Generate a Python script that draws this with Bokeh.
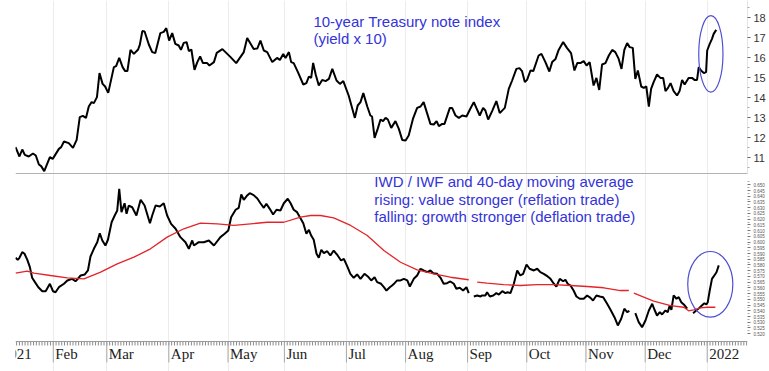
from bokeh.plotting import figure
from bokeh.models import (Range1d, LinearAxis, FixedTicker, Grid, Span, Label,
                          LabelSet, ColumnDataSource, PrintfTickFormatter)
from bokeh.layouts import column
from bokeh.embed import file_html
from bokeh.resources import INLINE

nan = float("nan")

# x = trading-session index (0 = first session of January 2021)
tnx_x = [5.6, 7.0, 8.0, 8.9, 10.3, 11.8, 12.8, 13.9, 14.7, 15.8,
         17.8, 18.8, 21.0, 21.8, 22.8, 24.5, 26.0, 27.3, 28.4, 29.5,
         30.6, 31.6, 32.6, 33.4, 34.5, 35.4, 36.5, 37.4, 38.5, 40.5,
         41.3, 42.4, 43.6, 44.5, 45.3, 46.4, 47.6, 49.1, 49.7, 50.6,
         51.4, 52.9, 54.1, 55.2, 57.0, 58.2, 59.1, 60.1, 61.2, 62.3,
         63.5, 64.3, 65.3, 66.3, 67.1, 68.0, 69.1, 70.1, 71.1, 72.1,
         73.6, 74.4, 76.0, 77.0, 79.0, 81.9, 83.9, 86.6, 87.8, 90.1,
         91.4, 92.5, 93.7, 94.9, 96.7, 98.4, 99.4, 100.6, 101.4, 102.6,
         103.4, 104.3, 105.8, 107.7, 108.8, 109.7, 110.5, 111.2, 112.1, 113.2,
         114.4, 115.6, 116.8, 118.0, 119.5, 120.7, 121.9, 123.8, 126.0, 127.0,
         128.0, 129.0, 130.4, 131.5, 132.1, 133.0, 134.1, 135.1, 136.0, 136.9,
         137.7, 138.9, 140.4, 141.6, 142.8, 144.0, 145.1, 146.6, 148.1, 149.3,
         150.4, 151.7, 152.8, 154.0, 155.0, 155.8, 157.0, 157.8, 159.7, 160.5,
         161.7, 162.9, 164.1, 165.6, 167.0, 168.2, 169.1, 170.3, 171.5, 172.3,
         173.3, 174.7, 176.2, 177.4, 179.2, 180.6, 181.8, 183.3, 184.4, 185.3,
         186.3, 187.1, 188.3, 189.3, 191.2, 192.2, 193.6, 195.0, 196.0, 197.2,
         198.3, 199.9, 201.3, 202.7, 203.9, 204.9, 206.0, 207.2, 208.2, 209.3,
         210.7, 211.7, 212.7, 213.7, 214.9, 216.1, 217.3, 218.4, 219.6, 220.6,
         221.6, 222.6, 223.5, 224.6, 225.5, 226.4, 227.6, 228.5, 229.4, 230.3,
         231.1, 232.0, 233.2, 234.4, 235.4, 236.2, 237.1, 238.0, 239.1, 240.3,
         241.2, 242.1, 243.0, 244.4, 245.6, 246.5, 247.4, 248.0, 248.8, 249.8,
         250.6, 251.0, 251.9, 252.7, 253.3, 254.2]
tnx_y = [11.52, 11.05, 11.4, 11.13, 11.05, 11.2, 11.1, 10.65, 10.57, 10.32,
         11.02, 10.93, 11.43, 11.52, 11.8, 11.72, 11.48, 11.88, 13.02, 13.08,
         12.98, 13.55, 13.77, 13.72, 14.02, 15.22, 14.68, 14.55, 14.23, 15.52,
         15.57, 15.98, 15.52, 15.32, 15.32, 16.38, 16.18, 16.4, 16.63, 17.32,
         17.3, 16.65, 16.27, 16.22, 17.22, 17.28, 17.47, 16.85, 17.22, 16.68,
         16.6, 16.38, 16.73, 16.77, 16.32, 16.4, 15.38, 15.77, 16.05, 15.72,
         15.72, 15.6, 15.77, 16.23, 16.42, 16.02, 15.72, 16.27, 16.98, 16.43,
         16.45, 16.84, 16.35, 16.27, 15.77, 15.98, 15.88, 16.18, 15.98, 16.27,
         15.77, 15.72, 15.27, 14.65, 14.72, 15.05, 14.98, 15.73, 15.15, 14.6,
         14.88, 14.82, 14.93, 15.43, 14.85, 14.68, 14.82, 14.1, 12.98, 13.6,
         13.77, 14.22, 13.55, 13.1, 13.05, 11.98, 12.43, 12.9, 12.82, 12.98,
         12.9, 12.48, 12.82, 12.43, 11.88, 11.85, 12.1, 12.93, 13.48, 13.55,
         13.77, 13.18, 12.68, 12.65, 12.82, 12.57, 12.68, 12.68, 13.48, 13.48,
         13.1, 12.98, 13.1, 13.05, 13.45, 13.77, 13.48, 13.1, 13.48, 13.35,
         12.9, 13.32, 13.82, 13.22, 13.48, 14.43, 14.85, 15.43, 15.47, 15.32,
         14.77, 14.88, 15.35, 15.32, 16.1, 16.18, 15.77, 15.3, 15.77, 15.93,
         16.38, 16.77, 16.47, 16.22, 15.35, 15.72, 15.72, 15.82, 15.6, 15.77,
         14.6, 14.98, 14.38, 15.65, 15.72, 16.1, 16.38, 16.27, 15.93, 15.43,
         16.38, 16.72, 16.52, 16.48, 14.93, 15.35, 14.55, 14.48, 14.55, 13.55,
         14.43, 14.77, 15.15, 14.98, 14.97, 14.32, 14.48, 14.72, 14.32, 14.1,
         14.32, 14.88, 14.65, 14.98, 14.98, 14.88, 14.88, 15.52, 15.35, 15.22,
         15.27, 16.35, 16.68, 16.93, 17.18, 17.38]

ratio_x = [5.6, 6.4, 7.0, 8.0, 8.8, 9.8, 10.7, 11.5, 12.5, 13.7,
           15.1, 16.3, 17.8, 18.9, 19.8, 21.0, 22.8, 24.0, 25.7, 26.9,
           27.7, 28.7, 30.2, 31.3, 32.2, 33.4, 34.6, 35.5, 36.4, 37.5,
           38.4, 39.7, 40.8, 41.7, 42.4, 43.2, 44.3, 45.0, 45.8, 47.0,
           48.5, 50.0, 51.4, 53.3, 54.1, 55.3, 56.8, 58.2, 59.4, 60.8,
           62.4, 64.1, 65.9, 67.1, 68.3, 68.9, 70.6, 72.4, 74.2, 76.0,
           78.3, 79.8, 81.1, 82.1, 83.7, 84.8, 85.7, 86.6, 87.8, 88.7,
           90.1, 91.4, 92.5, 93.7, 94.6, 95.8, 97.0, 98.2, 99.6, 100.8,
           102.2, 103.2, 104.3, 105.5, 106.5, 107.7, 108.8, 109.7, 110.5, 111.4,
           112.4, 113.2, 114.1, 115.0, 116.2, 117.3, 118.5, 119.9, 121.1, 122.1,
           123.3, 124.4, 125.6, 126.8, 128.0, 129.4, 130.6, 131.8, 133.0, 133.9,
           135.3, 136.3, 137.2, 138.4, 139.2, 140.1, 141.0, 142.2, 143.4, 144.6,
           145.5, 146.9, 148.1, 149.3, 150.4, 151.7, 152.8, 153.8, 155.2, 156.4,
           157.5, 158.7, 159.9, 161.1, 162.0, 163.2, 164.4, 165.6, 166.4, 167.3,
           168.2, 169.4, 170.6, 171.2, 172.3, 172.9, 173.9, 175.1, 176.2, 177.1,
           178.3, 179.4, 180.2, 181.2, 182.4, 183.6, 184.7, 185.7, 186.9, 188.0,
           189.5, 190.7, 191.8, 193.0, 194.4, 195.4, 196.6, 197.5, 198.7, 199.9,
           200.7, 201.5, 202.5, 203.6, 204.6, 205.8, 207.2, 208.4, 209.6, 210.5,
           211.7, 212.9, 214.1, 215.5, 216.7, 218.1, 219.3, 220.5, 221.6, 222.6,
           223.4, 224.5, 225.5, 226.7, 227.9, 229.1, 230.3, 231.5, 232.3, 233.2,
           234.2, 235.0, 236.2, 237.0, 237.7, 238.3, 239.1, 240.1, 240.9, 241.8,
           242.7, 243.9, 245.0, 246.0, 247.4, 248.3, 249.1, 250.0, 250.7, 251.2,
           251.9, 252.7, 253.3, 254.3, 255.1]
ratio_y = [0.5863, 0.5845, 0.5863, 0.5912, 0.5898, 0.5845, 0.5781, 0.5688, 0.5650, 0.5606,
           0.5571, 0.5571, 0.5636, 0.5571, 0.5562, 0.5606, 0.5636, 0.5665, 0.5679, 0.5658,
           0.5679, 0.5708, 0.5717, 0.5752, 0.5874, 0.5941, 0.5999, 0.6077, 0.6014, 0.5970,
           0.6020, 0.6173, 0.6232, 0.6276, 0.6465, 0.6261, 0.6339, 0.6247, 0.6319, 0.6304,
           0.6232, 0.6369, 0.6319, 0.6165, 0.6232, 0.6319, 0.6311, 0.6339, 0.6232, 0.6159,
           0.6116, 0.6043, 0.5999, 0.5941, 0.6014, 0.5970, 0.5999, 0.5999, 0.6014, 0.5970,
           0.6043, 0.6072, 0.6101, 0.6217, 0.6282, 0.6299, 0.6415, 0.6369, 0.6407, 0.6427,
           0.6410, 0.6380, 0.6339, 0.6299, 0.6334, 0.6290, 0.6241, 0.6282, 0.6276, 0.6339,
           0.6378, 0.6339, 0.6282, 0.6261, 0.6217, 0.6165, 0.6072, 0.6107, 0.6057, 0.6020,
           0.5898, 0.5863, 0.5933, 0.5903, 0.5920, 0.5883, 0.5926, 0.5883, 0.5839, 0.5854,
           0.5787, 0.5723, 0.5688, 0.5717, 0.5679, 0.5723, 0.5700, 0.5665, 0.5693, 0.5650,
           0.5636, 0.5606, 0.5577, 0.5606, 0.5621, 0.5641, 0.5665, 0.5665, 0.5679, 0.5665,
           0.5612, 0.5679, 0.5708, 0.5767, 0.5752, 0.5737, 0.5752, 0.5728, 0.5723, 0.5688,
           0.5636, 0.5641, 0.5656, 0.5636, 0.5592, 0.5601, 0.5577, 0.5606, 0.5554, nan,
           0.5525, 0.5534, 0.5525, 0.5534, 0.5534, 0.5562, 0.5525, 0.5534, 0.5554, 0.5542,
           0.5571, 0.5554, 0.5562, 0.5554, 0.5636, 0.5752, 0.5708, 0.5723, 0.5804, 0.5767,
           0.5752, 0.5767, 0.5737, 0.5723, 0.5700, 0.5679, 0.5636, 0.5612, 0.5679, 0.5658,
           0.5671, 0.5636, 0.5621, 0.5577, 0.5525, 0.5505, 0.5505, 0.5534, 0.5513, 0.5490,
           0.5534, 0.5525, 0.5519, 0.5461, 0.5409, 0.5344, 0.5272, 0.5330, 0.5418, 0.5388,
           0.5400, nan, 0.5379, 0.5301, 0.5257, 0.5315, 0.5403, 0.5461, 0.5409, 0.5359,
           0.5388, 0.5368, 0.5403, 0.5388, 0.5446, 0.5409, 0.5534, 0.5505, 0.5519, 0.5475,
           0.5455, 0.5418, nan, 0.5379, 0.5409, 0.5426, 0.5446, 0.5466, 0.5455, 0.5475,
           0.5577, 0.5679, 0.5700, 0.5737, 0.5796]

ma_x = [5.6, 9.8, 12.1, 18.0, 24.0, 29.9, 35.8, 41.7, 47.6, 53.5,
        59.4, 65.3, 71.2, 77.2, 83.1, 89.0, 94.9, 100.8, 106.7, 110.3,
        113.8, 118.5, 124.5, 130.4, 136.3, 142.2, 148.1, 154.0, 159.9, 166.4,
        167.9, 169.4, 172.9, 178.8, 184.7, 190.7, 196.6, 202.5, 208.4, 214.3,
        220.2, 223.2, 224.1, 225.0, 232.0, 238.0, 242.7, 244.4, 246.2, 248.6,
        251.0, 253.9]
ma_y = [0.5728, 0.5746, 0.5728, 0.5708, 0.5688, 0.5679, 0.5737, 0.5810, 0.5868, 0.5941,
        0.6043, 0.6116, 0.6165, 0.6159, 0.6145, 0.6159, 0.6173, 0.6173, 0.6217, 0.6232,
        0.6232, 0.6212, 0.6145, 0.6057, 0.5926, 0.5824, 0.5758, 0.5723, 0.5693, 0.5671,
        nan, 0.5650, 0.5641, 0.5629, 0.5621, 0.5629, 0.5629, 0.5621, 0.5612, 0.5601,
        0.5577, 0.5577, nan, 0.5554, 0.5484, 0.5446, 0.5431, 0.5400, 0.5409, 0.5426,
        0.5431, 0.5431]

month_ticks = [0, 19, 38, 60, 81, 101, 123, 144, 166, 187, 208, 229, 251]
month_labels = ["2021", "Feb", "Mar", "Apr", "May", "Jun", "Jul", "Aug",
                "Sep", "Oct", "Nov", "Dec", "2022"]
tnx_ticks = [11, 12, 13, 14, 15, 16, 17, 18]
ratio_ticks = [0.520, 0.525, 0.530, 0.535, 0.540, 0.545, 0.550, 0.555, 0.560,
               0.565, 0.570, 0.575, 0.580, 0.585, 0.590, 0.595, 0.600, 0.605,
               0.610, 0.615, 0.620, 0.625, 0.630, 0.635, 0.640, 0.645, 0.650]

title_top = ["10-year Treasury note index", "(yield x 10)"]
title_bottom = ["IWD / IWF and 40-day moving average",
                "rising: value stronger (reflation trade)",
                "falling: growth stronger (deflation trade)"]

FONT = "Liberation Sans"
BLUE = "#3434d8"
ELL = "#4f4fd2"
W = 769
LEFT, RIGHT = 15, 22

xr = Range1d(5.6, 265.3)

# ---------------- top panel ----------------
top = figure(width=W, height=174, x_range=xr, y_range=Range1d(10.15, 18.85),
             output_backend="svg", toolbar_location=None,
             x_axis_location=None, y_axis_location=None,
             min_border_left=LEFT, min_border_right=RIGHT,
             min_border_top=0, min_border_bottom=0,
             outline_line_color=None, background_fill_color="white")
top.grid.visible = False
top.add_layout(Grid(dimension=0, ticker=FixedTicker(ticks=month_ticks),
                    grid_line_color="#ececec", grid_line_width=1))
ax_t = LinearAxis(ticker=FixedTicker(ticks=tnx_ticks,
                                     minor_ticks=[t - 0.5 for t in tnx_ticks] + [18.5]),
                  major_label_text_font=FONT, major_label_text_font_size="11px",
                  major_label_text_color="#333333", major_label_standoff=3,
                  major_tick_out=3, major_tick_in=0, minor_tick_out=2, minor_tick_in=0,
                  major_tick_line_color="#666666", minor_tick_line_color="#aaaaaa",
                  axis_line_color="#e4e4e4")
top.add_layout(ax_t, "right")
top.add_layout(Span(location=10.18, dimension="width", line_color="#9a9a9a",
                    line_width=1.5))
top.line(tnx_x, tnx_y, line_color="black", line_width=2)
top.ellipse(x=252.3, y=16.18, width=8.6, height=3.83, fill_color=None,
            line_color=ELL, line_width=1.2)
for i, t in enumerate(title_top):
    top.add_layout(Label(x=111.3, y=[17.8, 16.95][i], text=t, text_font=FONT,
                         text_font_size="15px", text_color=BLUE,
                         text_baseline="alphabetic", text_align="left"))

# ---------------- bottom panel (frame runs down to the month labels) ----------------
AXIS_Y = 0.5132          # level of the date axis line
bot = figure(width=W, height=197, x_range=xr, y_range=Range1d(0.4870, 0.65899),
             output_backend="svg", toolbar_location=None,
             x_axis_location=None, y_axis_location=None,
             min_border_left=LEFT, min_border_right=RIGHT,
             min_border_top=0, min_border_bottom=0,
             outline_line_color=None, background_fill_color="white")
bot.grid.visible = False
bot.add_layout(Grid(dimension=0, ticker=FixedTicker(ticks=month_ticks),
                    grid_line_color="#ececec", grid_line_width=1))
ax_b = LinearAxis(ticker=FixedTicker(ticks=ratio_ticks,
                                     minor_ticks=[round(t + 0.0025, 4) for t in ratio_ticks]),
                  formatter=PrintfTickFormatter(format="%.3f"),
                  major_label_text_font=FONT, major_label_text_font_size="4.5px",
                  major_label_text_color="#555555", major_label_standoff=3,
                  major_tick_out=3, major_tick_in=0, minor_tick_out=2, minor_tick_in=0,
                  major_tick_line_color="#777777", minor_tick_line_color="#aaaaaa",
                  axis_line_color=None)
bot.add_layout(ax_b, "right")

# date axis: line, daily minor ticks, monthly long ticks, month labels
bot.add_layout(Span(location=AXIS_Y, dimension="width", line_color="#9a9a9a",
                    line_width=1))
sessions = list(range(6, 266))
bot.segment(x0=sessions, y0=AXIS_Y, x1=sessions, y1=AXIS_Y - 0.0035,
            line_color="#8a8a8a", line_width=1)
bot.segment(x0=month_ticks, y0=AXIS_Y, x1=month_ticks, y1=AXIS_Y - 0.0183,
            line_color="#a8a8a8", line_width=1)
msrc = ColumnDataSource(dict(x=month_ticks, y=[0.4981] * len(month_ticks),
                             text=month_labels))
bot.add_layout(LabelSet(x="x", y="y", text="text", source=msrc, x_offset=2,
                        text_font=FONT, text_font_size="15px", text_color="#222222",
                        text_align="left", text_baseline="alphabetic"))

bot.line(ratio_x, ratio_y, line_color="black", line_width=2)
bot.line(ma_x, ma_y, line_color="#e4242a", line_width=1.3)
bot.ellipse(x=252.1, y=0.5631, width=16.0, height=0.0574, fill_color=None,
            line_color=ELL, line_width=1.2)
for i, t in enumerate(title_bottom):
    bot.add_layout(Label(x=132.9, y=[0.6533, 0.6373, 0.6221][i], text=t, text_font=FONT,
                         text_font_size="15px", text_color=BLUE,
                         text_baseline="alphabetic", text_align="left"))

layout = column(top, bot, spacing=0)
open("out.html", "w").write(file_html(layout, INLINE))
